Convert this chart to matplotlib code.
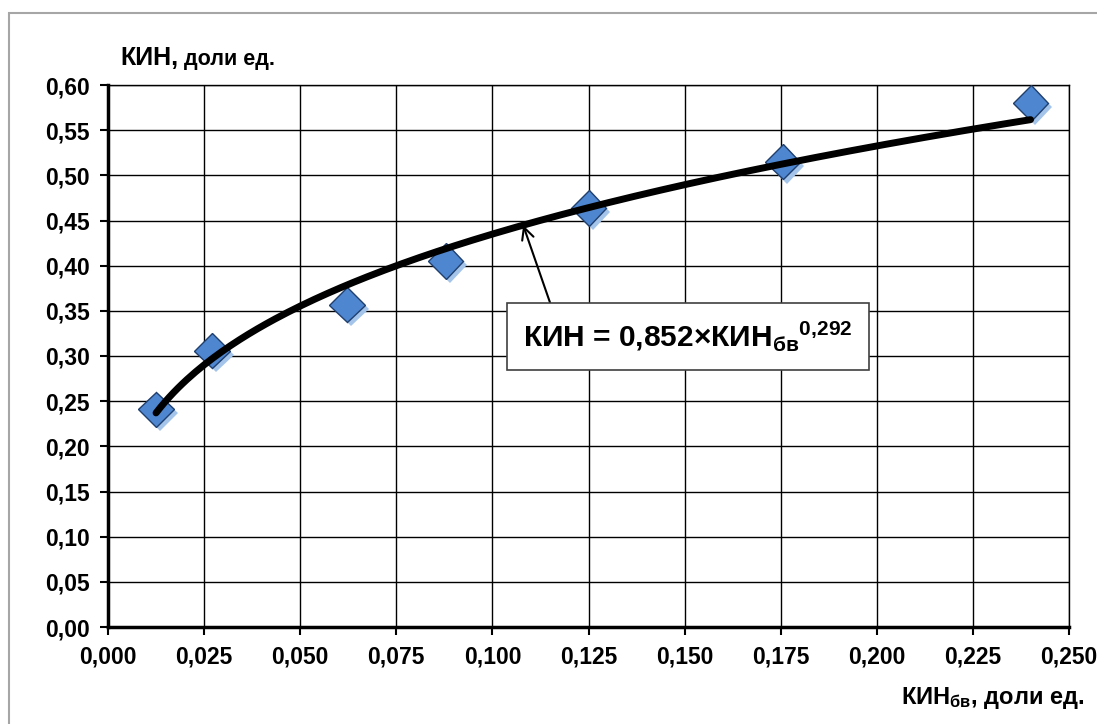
import numpy as np
import matplotlib
matplotlib.use('Agg')
import matplotlib.pyplot as plt
import matplotlib.patheffects as pe
from matplotlib.patches import Rectangle

plt.rcParams['font.family'] = ['Liberation Sans', 'DejaVu Sans']
plt.rcParams['font.weight'] = 'bold'
plt.rcParams['mathtext.fontset'] = 'custom'
plt.rcParams['mathtext.rm'] = 'Liberation Sans:bold'
plt.rcParams['mathtext.it'] = 'Liberation Sans:bold'
plt.rcParams['mathtext.bf'] = 'Liberation Sans:bold'

# measured points (КИН_бв, КИН)
kin_bv = [0.0125, 0.0271, 0.0622, 0.0878, 0.125, 0.1755, 0.240]
kin = [0.241, 0.306, 0.357, 0.405, 0.464, 0.515, 0.580]

# power trend from the label: КИН = a * КИН_бв ^ b
coef_a = 0.852
coef_b = 0.292

x_ticks = [0.0, 0.025, 0.05, 0.075, 0.1, 0.125, 0.15, 0.175, 0.2, 0.225, 0.25]
y_ticks = [0.0, 0.05, 0.1, 0.15, 0.2, 0.25, 0.3, 0.35, 0.4, 0.45, 0.5, 0.55, 0.6]

fig = plt.figure(figsize=(10.97, 7.24), dpi=100)
ax = fig.add_axes([108 / 1097, 1 - 627 / 724, 961 / 1097, 542 / 724])

# outer chart frame
fig.patches.append(Rectangle((9 / 1097, -0.1), 1.2, 0.1 + (1 - 13 / 724), transform=fig.transFigure,
                             fill=False, edgecolor='#a6a6a6', linewidth=1.5))

xs = np.linspace(min(kin_bv), max(kin_bv), 200)
ax.plot(xs, coef_a * xs ** coef_b, color='black', linewidth=5, zorder=4,
        solid_capstyle='round')
ax.plot(kin_bv, kin, linestyle='none', marker='D', markersize=18,
        markerfacecolor='#4f86d0', markeredgecolor='#1f3f6e', markeredgewidth=1.0, zorder=3,
        path_effects=[pe.SimplePatchShadow(offset=(3, -3), shadow_rgbFace='#a4c4ea', alpha=1.0),
                      pe.Normal()])

ax.set_xlim(0, 0.25)
ax.set_ylim(0, 0.6)
ax.set_xticks(x_ticks)
ax.set_yticks(y_ticks)
ax.set_xticklabels(['{:.3f}'.format(v).replace('.', ',') for v in x_ticks])
ax.set_yticklabels(['{:.2f}'.format(v).replace('.', ',') for v in y_ticks])
ax.tick_params(labelsize=16.5, length=6, width=1.5, direction='out', pad=7)
ax.grid(True, color='black', linewidth=1.0)
ax.set_axisbelow(True)
for s in ['left', 'bottom']:
    ax.spines[s].set_linewidth(2.5)
for s in ['top', 'right']:
    ax.spines[s].set_linewidth(1.0)

# axis titles
t1 = fig.text(120 / 1097, 1 - 58 / 724, 'КИН,', fontsize=18, fontweight='bold', va='center', ha='left')
ax.annotate(' доли ед.', xy=(1, 0), xycoords=t1, xytext=(0, 0), textcoords='offset points',
            fontsize=15.5, fontweight='bold', va='bottom', ha='left', annotation_clip=False)
fig.text(1085 / 1097, 1 - 698 / 724, r'КИН$_{бв}$, доли ед.', fontsize=17, fontweight='bold',
         va='center', ha='right')

# equation box with arrow
ax.annotate(r'КИН = 0,852×КИН$_{бв}$${}^{0{,}292}$', xy=(0.108, coef_a * 0.108 ** coef_b),
            xytext=(0.1508, 0.3216), textcoords='data', fontsize=21.5, fontweight='bold',
            ha='center', va='center', zorder=6,
            bbox=dict(boxstyle='square,pad=0.55', facecolor='white', edgecolor='#404040', linewidth=1.2),
            arrowprops=dict(arrowstyle='->', color='black', lw=1.5, shrinkA=0, shrinkB=0,
                            relpos=(0.1, 1.0)))

fig.savefig('out.png', dpi=100)
